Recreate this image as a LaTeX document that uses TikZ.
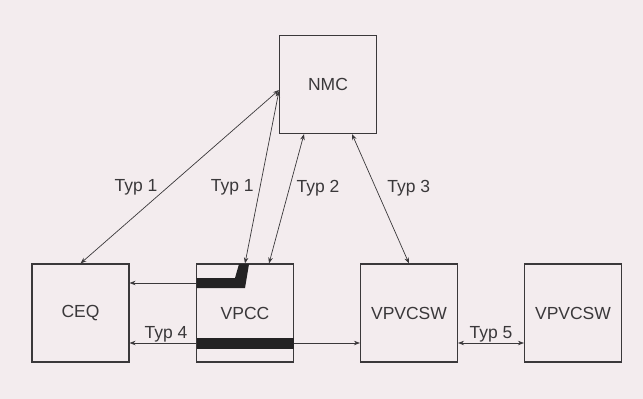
\documentclass[tikz,border=0pt]{standalone}
\usepackage{fontspec}
\setmainfont{Liberation Sans}
\usetikzlibrary{arrows.meta}
\definecolor{paper}{RGB}{243,236,238}
\definecolor{ink}{RGB}{58,56,58}
\begin{document}
\begin{tikzpicture}[x=1pt,y=-1pt,every node/.style={font=\fontsize{17.5}{20}\selectfont,text=ink},
	box/.style={draw=ink,line width=1.1pt,minimum width=97pt,minimum height=98pt,inner sep=0pt},
	lab/.style={inner sep=1pt},
	>={Stealth[length=6pt,width=4.5pt]}]
		\fill[paper](0,0)rectangle(643,399);
		\useasboundingbox(0,0)rectangle(643,399);
		\node[box](NMC)at(328,84.5){NMC};
		\node[box](CEQ)at(80.5,313){CEQ};
		\node[box](VPCC)at(245,313){VPCC};
		\node[box](SW1)at(409,313){VPVCSW};
		\node[box](SW2)at(573,313){VPVCSW};
		%black bars in VPCC
		\fill[ink!60!black](196.5,278)--(235,278)--(239,264)--(249,264)--(245,288)--(196.5,288)--cycle;
		\fill[ink!60!black](196.5,338)rectangle(293.5,349);
		\draw[ink,line width=.7pt,<->](CEQ.north)--node[lab,pos=.44,left=9pt]{Typ 1}([yshift=-5.5pt]NMC.west);
		\draw[ink,line width=.7pt,<->](VPCC.north)--node[lab,pos=.44,left=5pt]{Typ 1}([yshift=-6.5pt]NMC.west);
		\draw[ink,line width=.7pt,<->]([xshift=24pt]VPCC.north)--node[lab,pos=.58,right=6pt]{Typ 2}([xshift=-24pt]NMC.south);
		\draw[ink,line width=.7pt,<->]([xshift=24pt]NMC.south)--node[lab,pos=.42,right=10pt]{Typ 3}(SW1.north);
		\draw[ink,line width=.7pt,->]([yshift=30pt]VPCC.west)--([yshift=30pt]CEQ.east);
		\draw[ink,line width=.7pt,->]([yshift=-30pt]VPCC.west)--node[lab,pos=.45,above]{Typ 4}([yshift=-30pt]CEQ.east);
		\draw[ink,line width=.7pt,->]([yshift=-30pt]VPCC.east)--([yshift=-30pt]SW1.west);
		\draw[ink,line width=.7pt,<->]([yshift=-30pt]SW1.east)--node[lab,above]{Typ 5}([yshift=-30pt]SW2.west);
	\end{tikzpicture}
\end{document}
